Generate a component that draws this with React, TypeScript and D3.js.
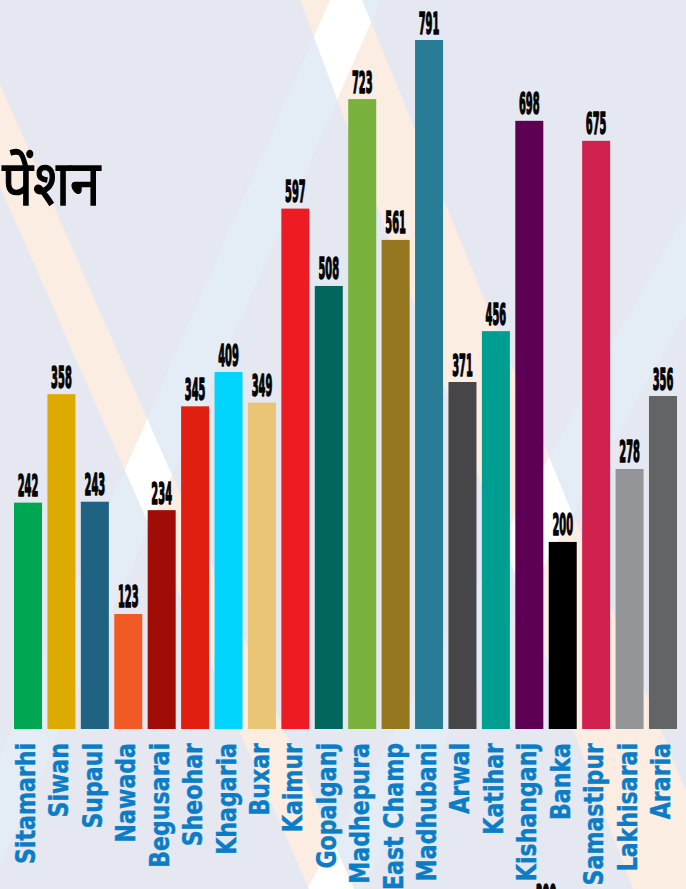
import * as d3 from 'd3';

const W = 686;
const H = 889;

// district pension counts
const districts = [
  'Sitamarhi', 'Siwan', 'Supaul', 'Nawada', 'Begusarai', 'Sheohar', 'Khagaria',
  'Buxar', 'Kaimur', 'Gopalganj', 'Madhepura', 'East Champ', 'Madhubani', 'Arwal',
  'Katihar', 'Kishanganj', 'Banka', 'Samastipur', 'Lakhisarai', 'Araria',
];
const pension = [242, 358, 243, 123, 234, 345, 409, 349, 597, 508, 723, 561, 791, 371, 456, 698, 200, 675, 278, 356];
const barColors = [
  '#00a651', '#dcaa00', '#1f6282', '#f15a24', '#a00d06', '#e11f10', '#00d4ff',
  '#e9c575', '#ed1c24', '#00665e', '#78b13b', '#957720', '#297c96', '#464648',
  '#009e91', '#5d0054', '#000000', '#d0204e', '#949598', '#636466',
];
const title = 'पेंशन';

// background light beams (decoration)
const peachBeams = [
  [[-82, 0], [-37, 0], [354, 889], [309, 889]],
  [[300, 0], [362, 0], [726, 889], [633, 889]],
];
const blueBeams = [
  [[330, 0], [381, 0], [-10, 889], [-58, 889]],
  [[805, 0], [862, 0], [362, 889], [307, 889]],
];

const baseY = 729;

export default function App() {
  const x = d3
    .scaleBand<string>()
    .domain(districts)
    .range([11.3, 679.7])
    .paddingInner(0.162)
    .paddingOuter(0.081);

  // the printed graphic uses two slightly different scales below/above ~400
  const y = d3
    .scaleLinear()
    .domain([0, 371, 409, 791])
    .range([baseY, baseY - 347, baseY - 357, 40]);

  const pts = (p: number[][]) => p.map((q) => q.join(',')).join(' ');

  const valueStyle = {
    fontFamily: "'DejaVu Sans', sans-serif",
    fontWeight: 'bold' as const,
    fontSize: 30,
    fill: '#000',
    stroke: '#000',
    strokeWidth: 1.5,
    strokeLinejoin: 'round' as const,
  };

  return (
    <svg
      width={W}
      height={H}
      style={{ position: 'absolute', left: 0, top: 0, display: 'block' }}
    >
      <defs>
        <clipPath id="peachClip">
          {peachBeams.map((p, i) => (
            <polygon key={i} points={pts(p)} />
          ))}
        </clipPath>
      </defs>
      <rect width={W} height={H} fill="#e5e8f0" />
      {peachBeams.map((p, i) => (
        <polygon key={'p' + i} points={pts(p)} fill="#fcede3" />
      ))}
      {blueBeams.map((p, i) => (
        <polygon key={'b' + i} points={pts(p)} fill="#e4ecf6" />
      ))}
      <g clipPath="url(#peachClip)">
        {blueBeams.map((p, i) => (
          <polygon key={'w' + i} points={pts(p)} fill="#ffffff" />
        ))}
      </g>

      <text
        transform="translate(2,205) scale(0.88,1)"
        fontFamily="'Noto Sans Devanagari', 'Noto Sans', sans-serif"
        fontSize={62}
        fill="#000"
        stroke="#000"
        strokeWidth={1.3}
      >
        {title}
      </text>

      {districts.map((d, i) => {
        const cx = x(d)! + x.bandwidth() / 2;
        const top = y(pension[i]);
        return (
          <g key={d}>
            <rect
              x={x(d)}
              y={top}
              width={x.bandwidth()}
              height={baseY - top}
              fill={barColors[i]}
            />
            <text
              transform={`translate(${cx},${top - 6.5}) scale(0.33,1)`}
              textAnchor="middle"
              style={valueStyle}
            >
              {pension[i]}
            </text>
            <text
              transform={`translate(${cx + 7},743) rotate(-90) scale(0.85,1)`}
              textAnchor="end"
              fontFamily="'DejaVu Sans', sans-serif"
              fontWeight="bold"
              fontSize={26}
              fill="#0a7dc6"
              stroke="#0a7dc6"
              strokeWidth={0.4}
            >
              {d}
            </text>
          </g>
        );
      })}

      {/* stray label cut off at the bottom edge */}
      <text
        transform="translate(546,906) scale(0.33,1)"
        textAnchor="middle"
        style={valueStyle}
      >
        300
      </text>
    </svg>
  );
}
